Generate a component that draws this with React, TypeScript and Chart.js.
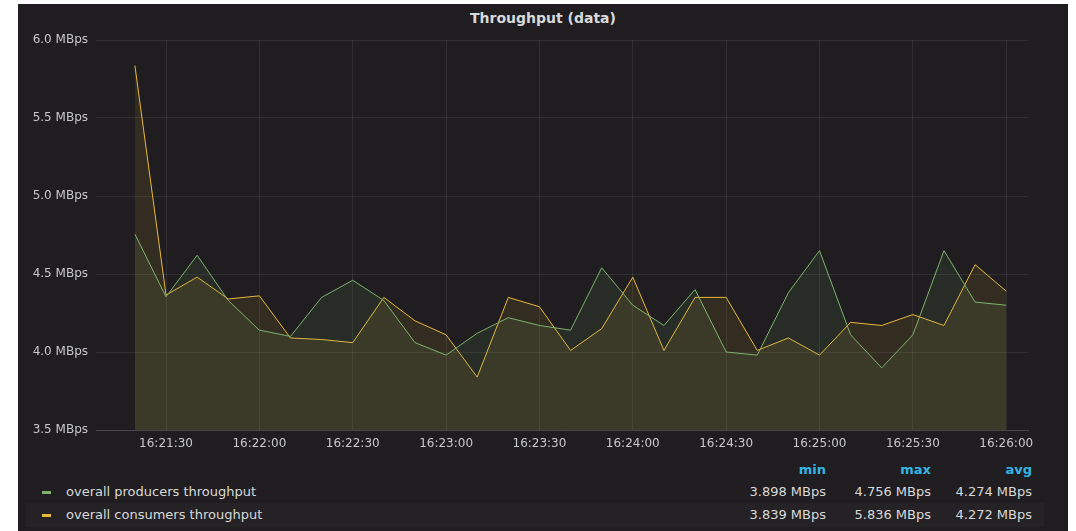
import React, { useEffect, useRef } from "react";
import { Chart, registerables } from "chart.js";

Chart.register(...registerables);

const times = [
  "16:21:20", "16:21:30", "16:21:40", "16:21:50", "16:22:00", "16:22:10", "16:22:20", "16:22:30",
  "16:22:40", "16:22:50", "16:23:00", "16:23:10", "16:23:20", "16:23:30", "16:23:40", "16:23:50",
  "16:24:00", "16:24:10", "16:24:20", "16:24:30", "16:24:40", "16:24:50", "16:25:00", "16:25:10",
  "16:25:20", "16:25:30", "16:25:40", "16:25:50", "16:26:00",
];

const producers = [
  4.756, 4.354, 4.62, 4.33, 4.14, 4.1, 4.35, 4.46, 4.33, 4.06, 3.98, 4.12, 4.22, 4.17, 4.14, 4.54,
  4.3, 4.17, 4.4, 4.0, 3.98, 4.38, 4.65, 4.11, 3.898, 4.11, 4.65, 4.32, 4.3,
];

const consumers = [
  5.836, 4.365, 4.48, 4.34, 4.36, 4.09, 4.08, 4.06, 4.35, 4.2, 4.11, 3.839, 4.35, 4.29, 4.01, 4.15,
  4.48, 4.01, 4.35, 4.35, 4.01, 4.09, 3.98, 4.19, 4.17, 4.24, 4.17, 4.56, 4.39,
];

const seriesNames = ["overall producers throughput", "overall consumers throughput"];
const seriesColors = ["#7EB26D", "#EAB839"];
const xTickTimes = [
  "16:21:30", "16:22:00", "16:22:30", "16:23:00", "16:23:30",
  "16:24:00", "16:24:30", "16:25:00", "16:25:30", "16:26:00",
];
const yTicks = [3.5, 4.0, 4.5, 5.0, 5.5, 6.0];
const xRangeStart = "16:21:07.5";
const xRangeEnd = "16:26:07";

const BASE = 16 * 3600 + 21 * 60;
function toSec(t: string): number {
  const [h, m, s] = t.split(":");
  return Number(h) * 3600 + Number(m) * 60 + Number(s) - BASE;
}
function fmt(v: number): string {
  const tot = Math.round(v + BASE);
  const h = Math.floor(tot / 3600);
  const m = Math.floor((tot % 3600) / 60);
  const s = tot % 60;
  const p = (n: number) => String(n).padStart(2, "0");
  return `${p(h)}:${p(m)}:${p(s)}`;
}

function hexA(hex: string, a: number) {
  const r = parseInt(hex.slice(1, 3), 16);
  const g = parseInt(hex.slice(3, 5), 16);
  const b = parseInt(hex.slice(5, 7), 16);
  return `rgba(${r},${g},${b},${a})`;
}

function stats(arr: number[]) {
  const min = Math.min(...arr);
  const max = Math.max(...arr);
  const avg = arr.reduce((a, b) => a + b, 0) / arr.length;
  return [min, max, avg].map((v) => `${v.toFixed(3)} MBps`);
}

const FONT = "'DejaVu Sans', sans-serif";

export default function App() {
  const ref = useRef<HTMLCanvasElement | null>(null);

  useEffect(() => {
    if (!ref.current) return;
    const all = [producers, consumers];
    const chart = new Chart(ref.current, {
      type: "line",
      data: {
        datasets: all.map((arr, k) => ({
          label: seriesNames[k],
          data: arr.map((y, i) => ({ x: toSec(times[i]), y })),
          borderColor: seriesColors[k],
          backgroundColor: hexA(seriesColors[k], 0.1),
          borderWidth: 1,
          pointRadius: 0,
          tension: 0,
          fill: "start",
        })),
      },
      options: {
        animation: false,
        responsive: false,
        maintainAspectRatio: false,
        layout: { padding: { left: 0, right: 40, top: 36, bottom: 0 } },
        plugins: {
          legend: { display: false },
          tooltip: { enabled: false },
          title: { display: false },
        },
        scales: {
          x: {
            type: "linear",
            min: toSec(xRangeStart),
            max: toSec(xRangeEnd),
            afterBuildTicks: (scale: any) => {
              scale.ticks = xTickTimes.map((t) => ({ value: toSec(t) }));
            },
            afterFit: (scale: any) => {
              scale.height = 29;
            },
            ticks: {
              color: "#c7c8ca",
              font: { family: FONT, size: 12 },
              padding: 7,
              maxRotation: 0,
              autoSkip: false,
              callback: (v: any) => fmt(Number(v)),
            },
            grid: { color: "rgba(255,255,255,0.08)", drawTicks: false, lineWidth: 1 },
            border: { display: true, color: "#48484b", width: 1 },
          },
          y: {
            type: "linear",
            min: yTicks[0],
            max: yTicks[yTicks.length - 1],
            afterBuildTicks: (scale: any) => {
              scale.ticks = yTicks.map((v) => ({ value: v }));
            },
            afterFit: (scale: any) => {
              scale.width = 78;
            },
            ticks: {
              color: "#c7c8ca",
              font: { family: FONT, size: 12 },
              padding: 8,
              callback: (v: any) => `${Number(v).toFixed(1)} MBps`,
            },
            grid: { color: "rgba(255,255,255,0.08)", drawTicks: false, lineWidth: 1 },
            border: { display: false },
          },
        },
      },
    });
    return () => chart.destroy();
  }, []);

  const st = [stats(producers), stats(consumers)];
  const statRight = [808, 913, 1014];
  const statHead = ["min", "max", "avg"];
  const rowY = [488, 511];

  return (
    <div
      style={{
        position: "absolute",
        left: 18,
        top: 4,
        width: 1050,
        height: 527,
        background: "#1f1d1f",
        overflow: "hidden",
        fontFamily: FONT,
      }}
    >
      <div
        style={{
          position: "absolute",
          left: 0,
          width: 1050,
          top: 5,
          textAlign: "center",
          color: "#d8d9da",
          fontSize: 14,
          fontWeight: 700,
          lineHeight: "18px",
        }}
      >
        Throughput (data)
      </div>
      <canvas
        ref={ref}
        width={1050}
        height={455}
        style={{ position: "absolute", left: 0, top: 0, width: 1050, height: 455 }}
      />
      <div
        style={{
          position: "absolute",
          left: 8,
          top: 499,
          width: 1018,
          height: 24,
          background: "rgba(255,255,255,0.025)",
        }}
      />
      {statHead.map((h, j) => (
        <div
          key={h}
          style={{
            position: "absolute",
            right: 1050 - statRight[j],
            top: 466 - 9,
            lineHeight: "18px",
            fontSize: 13,
            fontWeight: 700,
            color: "#33b5e5",
          }}
        >
          {h}
        </div>
      ))}
      {seriesNames.map((name, k) => (
        <React.Fragment key={name}>
          <div
            style={{
              position: "absolute",
              left: 24,
              top: rowY[k] - 1,
              width: 9,
              height: 3,
              background: seriesColors[k],
            }}
          />
          <div
            style={{
              position: "absolute",
              left: 48,
              top: rowY[k] - 9,
              lineHeight: "18px",
              fontSize: 13,
              color: "#d8d9da",
              whiteSpace: "nowrap",
            }}
          >
            {name}
          </div>
          {st[k].map((v, j) => (
            <div
              key={j}
              style={{
                position: "absolute",
                right: 1050 - statRight[j],
                top: rowY[k] - 9,
                lineHeight: "18px",
                fontSize: 13,
                color: "#d8d9da",
                whiteSpace: "nowrap",
              }}
            >
              {v}
            </div>
          ))}
        </React.Fragment>
      ))}
    </div>
  );
}
